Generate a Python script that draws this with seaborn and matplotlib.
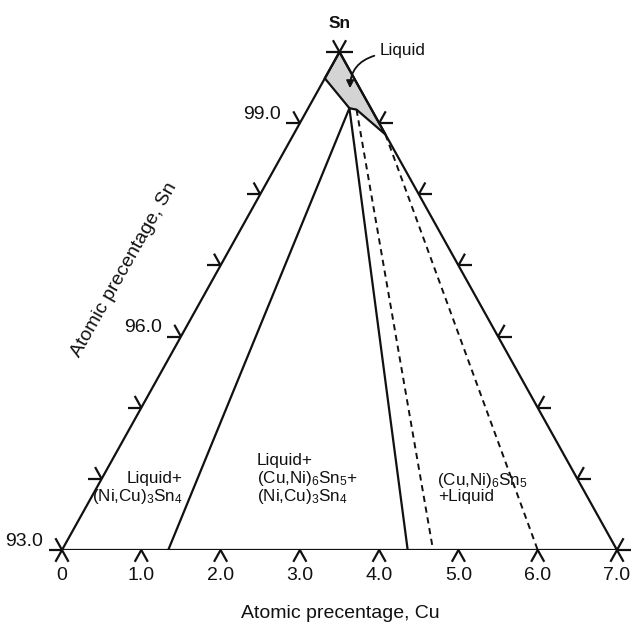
import numpy as np
import pandas as pd
import matplotlib
matplotlib.use("Agg")
import matplotlib.pyplot as plt
from matplotlib import font_manager
from matplotlib.patches import Polygon, FancyArrowPatch
import seaborn as sns

# ---- composition data (at.% Sn and at.% Cu; Ni is the balance) ----
cu_ticks = [0, 1, 2, 3, 4, 5, 6, 7]
cu_tick_labels = ["0", "1.0", "2.0", "3.0", "4.0", "5.0", "6.0", "7.0"]
sn_ticks = [93, 94, 95, 96, 97, 98, 99, 100]
sn_labelled = [99, 96, 93]
sn_labels = ["99.0", "96.0", "93.0"]

# liquid field near the Sn corner
liquid_sn = [100.0, 99.63, 99.21, 99.19, 98.84]
liquid_cu = [0.0, 0.0, 0.52, 0.62, 1.16]

# boundary lines: (start Sn, start Cu) -> (end Sn, end Cu)
solid_start_sn = [99.21, 99.21]
solid_start_cu = [0.52, 0.52]
solid_end_sn = [93.0, 93.0]
solid_end_cu = [1.34, 4.36]

dashed_start_sn = [99.19, 98.84]
dashed_start_cu = [0.62, 1.16]
dashed_end_sn = [93.0, 93.0]
dashed_end_cu = [4.68, 6.00]

SN_MIN = 93.0


def to_xy(sn, cu):
    sn = np.asarray(sn, dtype=float)
    cu = np.asarray(cu, dtype=float)
    return cu + 0.5 * (sn - SN_MIN), sn - SN_MIN


sns.set_theme(style="white")
avail = {f.name for f in font_manager.fontManager.ttflist}
narrow = "Liberation Sans Narrow" if "Liberation Sans Narrow" in avail else "Liberation Sans"
plt.rcParams["font.family"] = ["Liberation Sans", "DejaVu Sans"]
plt.rcParams["mathtext.fontset"] = "custom"
plt.rcParams["mathtext.rm"] = "Liberation Sans"
plt.rcParams["mathtext.it"] = "Liberation Sans:italic"
plt.rcParams["mathtext.bf"] = "Liberation Sans:bold"

W, H = 639, 628
fig = plt.figure(figsize=(W / 100, H / 100), dpi=100)
fig.patch.set_facecolor("white")
ax = fig.add_axes([62 / W, 78 / H, 555 / W, 498 / H])
ax.set_xlim(0, 7)
ax.set_ylim(0, 7)
ax.set_axis_off()

# pixel scale of one data unit
PX = 555 / 7.0
PY = 498 / 7.0

LW = 1.6
DASH_LW = 1.4
ink = "#111111"

# liquid field
lx, ly = to_xy(liquid_sn, liquid_cu)
ax.add_patch(Polygon(np.column_stack([lx, ly]), closed=True,
                     facecolor="#d4d4d4", edgecolor=ink, lw=LW, zorder=1))

# triangle frame
frame_sn = [SN_MIN, SN_MIN, 100.0, SN_MIN]
frame_cu = [0.0, 7.0, 0.0, 0.0]
fx, fy = to_xy(frame_sn, frame_cu)
frame = pd.DataFrame({"x": fx, "y": fy})
sns.lineplot(data=frame, x="x", y="y", sort=False, color=ink, lw=LW,
             ax=ax, estimator=None, zorder=3)


def segments(start_sn, start_cu, end_sn, end_cu, tag):
    rows = []
    for i in range(len(start_sn)):
        xs, ys = to_xy([start_sn[i], end_sn[i]], [start_cu[i], end_cu[i]])
        for k in range(2):
            rows.append({"x": xs[k], "y": ys[k], "line": f"{tag}{i}"})
    return pd.DataFrame(rows)

# solid phase boundaries
solid = segments(solid_start_sn, solid_start_cu, solid_end_sn, solid_end_cu, "s")
sns.lineplot(data=solid, x="x", y="y", units="line", sort=False,
             estimator=None, color=ink, lw=LW, ax=ax, zorder=3)

# dashed phase boundaries
n_before = len(ax.get_lines())
dashed = segments(dashed_start_sn, dashed_start_cu, dashed_end_sn, dashed_end_cu, "d")
sns.lineplot(data=dashed, x="x", y="y", units="line", sort=False,
             estimator=None, color=ink, lw=DASH_LW, ax=ax, zorder=3)
for ln in ax.get_lines()[n_before:]:
    ln.set_dashes([3.2, 2.4])


# ---- edge ticks ----
def unit(dx_px, dy_px):
    n = np.hypot(dx_px, dy_px)
    return dx_px / n, dy_px / n

TL = 13.5  # tick length in pixels
up_right = unit(3.5 * PX, 7 * PY)     # along left edge, upward
down_right = unit(3.5 * PX, -7 * PY)  # along right edge, downward


def tick(x0, y0, direction):
    dx, dy = direction
    ax.plot([x0, x0 + dx * TL / PX], [y0, y0 + dy * TL / PY],
            color=ink, lw=LW, solid_capstyle="butt", clip_on=False, zorder=3)

# bottom edge: legs down-left and down-right
for c in cu_ticks:
    x0, y0 = to_xy(SN_MIN, c)
    tick(x0, y0, (-up_right[0], -up_right[1]))
    tick(x0, y0, down_right)

# left edge (Cu = 0): horizontal to the left and up-left
for s in sn_ticks:
    x0, y0 = to_xy(s, 0.0)
    tick(x0, y0, (-1.0, 0.0))
    tick(x0, y0, (-down_right[0], -down_right[1]))

# right edge (Ni = 0): horizontal to the right and up-right
for s in sn_ticks:
    x0, y0 = to_xy(s, 100.0 - s)
    tick(x0, y0, (1.0, 0.0))
    tick(x0, y0, up_right)

# ---- tick labels ----
tick_fs = 14
for c, lab in zip(cu_ticks, cu_tick_labels):
    x0, y0 = to_xy(SN_MIN, c)
    ax.annotate(lab, (x0, y0), xytext=(0, -25 * 0.72), textcoords="offset points",
                ha="center", va="center", fontsize=tick_fs, family=narrow,
                color=ink, annotation_clip=False)

for s, lab in zip(sn_labelled, sn_labels):
    x0, y0 = to_xy(s, 0.0)
    ax.annotate(lab, (x0, y0), xytext=(-19 * 0.72, 9 * 0.72),
                textcoords="offset points", ha="right", va="center",
                fontsize=tick_fs, family=narrow, color=ink,
                annotation_clip=False)

# ---- axis titles ----
fig.text(340 / W, 1 - 614 / H, "Atomic precentage, Cu", ha="center",
         va="center", fontsize=14, color=ink)
fig.text(124 / W, 1 - 270 / H, "Atomic precentage, Sn", ha="center",
         va="center", fontsize=14, rotation=60.5, rotation_mode="anchor",
         color=ink)

# ---- corner and field labels ----
apx, apy = to_xy(100.0, 0.0)
ax.annotate("Sn", (apx, apy), xytext=(0, 29 * 0.72), textcoords="offset points",
            ha="center", va="center", fontsize=12.5, fontweight="bold",
            color=ink, annotation_clip=False)

fs = 12.3


def px2data(px, py):
    return (px - 62) / PX, (550 - py) / PY

ax.text(*px2data(380, 50), "Liquid", ha="left", va="center", fontsize=fs, color=ink)
arrow = FancyArrowPatch(px2data(377, 55), px2data(350, 91),
                        connectionstyle="arc3,rad=0.4", arrowstyle="-|>",
                        mutation_scale=11, lw=1.3, color=ink, zorder=4)
ax.add_patch(arrow)

ax.text(*px2data(155, 478), "Liquid+", ha="center", va="center", fontsize=fs, color=ink)
ax.text(*px2data(137, 497), r"(Ni,Cu)$_3$Sn$_4$", ha="center", va="center",
        fontsize=fs, color=ink)

ax.text(*px2data(257, 460), "Liquid+", ha="left", va="center", fontsize=fs, color=ink)
ax.text(*px2data(257, 478), r"(Cu,Ni)$_6$Sn$_5$+", ha="left", va="center",
        fontsize=fs, color=ink)
ax.text(*px2data(257, 497), r"(Ni,Cu)$_3$Sn$_4$", ha="left", va="center",
        fontsize=fs, color=ink)

ax.text(*px2data(437, 481), r"(Cu,Ni)$_6$Sn$_5$", ha="left", va="center",
        fontsize=fs, color=ink)
ax.text(*px2data(438, 497), "+Liquid", ha="left", va="center", fontsize=fs, color=ink)

fig.savefig("out.png", dpi=100, facecolor="white")
